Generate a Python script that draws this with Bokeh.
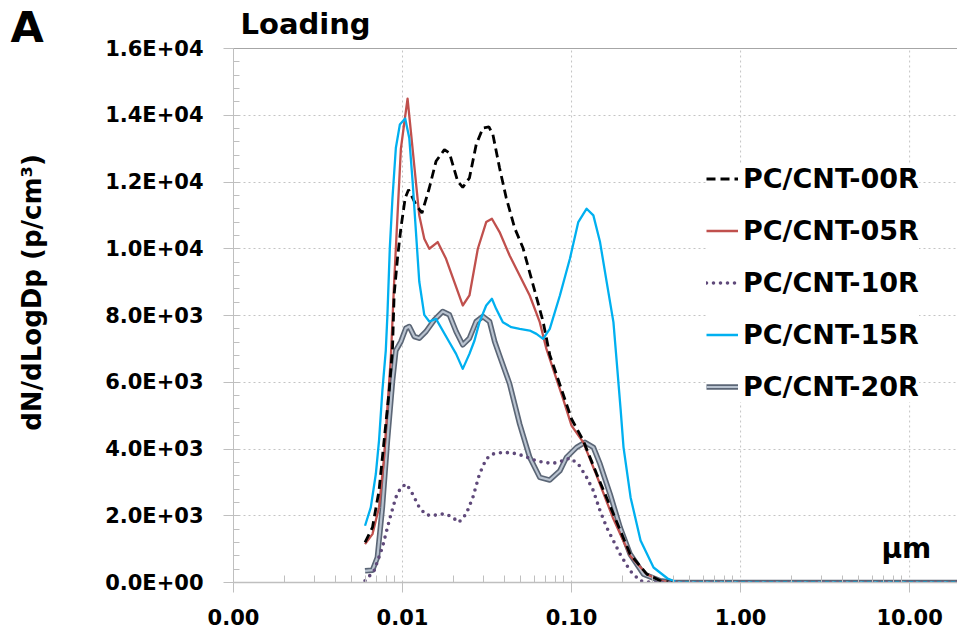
import numpy as np
from bokeh.plotting import figure
from bokeh.layouts import row
from bokeh.models import (Range1d, FixedTicker, CustomJSTickFormatter, Legend,
                          LegendItem, Label, Span)
from bokeh.embed import file_html
from bokeh.resources import INLINE

# ---------------- data ----------------
series_names = ["PC/CNT-00R", "PC/CNT-05R", "PC/CNT-10R", "PC/CNT-15R", "PC/CNT-20R"]

dp_00R = [0.00600, 0.00664, 0.00726, 0.00778, 0.00834, 0.00873, 0.00892, 0.00934, 0.00978,
          0.01037, 0.01085, 0.01200, 0.01303, 0.01440, 0.01578, 0.01769, 0.01893, 0.02121,
          0.02271, 0.02488, 0.02728, 0.02988, 0.03245, 0.03425, 0.03751, 0.04109, 0.04608,
          0.05163, 0.05920, 0.06785, 0.07433, 0.1000, 0.1173, 0.1409, 0.1769, 0.2221,
          0.2790, 0.3350, 0.40, 0.6, 1.0, 3.0, 20.0]
n_00R = [1200, 1650, 2750, 4250, 5750, 7050, 8620, 9720, 10620,
         11520, 11770, 11320, 11070, 11820, 12620, 12970, 12870, 12020,
         11840, 12120, 13120, 13620, 13650, 13420, 12420, 11520, 10620,
         10020, 8920, 7820, 6820, 4900, 4250, 3250, 2050, 850,
         250, 50, 0, 0, 0, 0, 0]

dp_05R = [0.00600, 0.00664, 0.00726, 0.00778, 0.00814, 0.00853, 0.00892, 0.00934, 0.00978,
          0.01020, 0.01071, 0.01121, 0.01173, 0.01256, 0.01345, 0.01440, 0.01614, 0.01809,
          0.02027, 0.02271, 0.02488, 0.02789, 0.03126, 0.03379, 0.03751, 0.04301, 0.04932,
          0.05655, 0.06485, 0.07100, 0.08913, 0.1000, 0.1173, 0.1409, 0.1769, 0.2221,
          0.2790, 0.3350, 0.40, 0.6, 1.0, 3.0, 20.0]
n_05R = [1150, 1450, 2250, 3750, 5250, 6750, 9000, 11000, 13000,
         13700, 14500, 13500, 12500, 11000, 10300, 10000, 10200, 9700,
         9000, 8300, 8600, 10000, 10800, 10900, 10500, 9800, 9200,
         8600, 7800, 7000, 5500, 4700, 4200, 3200, 1900, 800,
         250, 50, 0, 0, 0, 0, 0]

dp_10R = [0.00600, 0.00679, 0.00760, 0.00834, 0.00913, 0.00978, 0.01056, 0.01147, 0.01256,
          0.01377, 0.01507, 0.01651, 0.01809, 0.01982, 0.02153, 0.02378, 0.02606, 0.02853,
          0.03126, 0.03425, 0.03923, 0.04498, 0.05163, 0.05920, 0.06785, 0.07780, 0.08913,
          0.09775, 0.1096, 0.1228, 0.1346, 0.1474, 0.1614, 0.1769, 0.1938, 0.2221,
          0.2547, 0.30, 0.6, 1.0, 3.0, 20.0]
n_10R = [50, 350, 1050, 1850, 2550, 2850, 2950, 2650, 2250,
         2030, 2000, 2050, 2050, 1950, 1800, 2050, 2550, 3250,
         3700, 3850, 3900, 3880, 3800, 3680, 3600, 3570, 3650,
         3730, 3550, 3150, 2750, 2150, 1650, 1250, 850, 350,
         50, 0, 0, 0, 0, 0]

dp_15R = [0.00600, 0.00649, 0.00695, 0.00726, 0.00760, 0.00796, 0.00814, 0.00841, 0.00872,
          0.00913, 0.00964, 0.01037, 0.01096, 0.01147, 0.01200, 0.01256, 0.01345, 0.01440,
          0.01578, 0.01893, 0.02074, 0.02271, 0.02488, 0.02666, 0.02853, 0.03126, 0.03379,
          0.03580, 0.03923, 0.04401, 0.04932, 0.05655, 0.06198, 0.06785, 0.07433, 0.08531,
          0.09775, 0.1096, 0.1228, 0.1346, 0.1474, 0.1614, 0.1769, 0.1851, 0.1950,
          0.2030, 0.2235, 0.2560, 0.3055, 0.3700, 0.4240, 0.6, 1.0, 3.0, 20.0]
n_15R = [1700, 2250, 3250, 4250, 5750, 6950, 8020, 10020, 11520,
         13020, 13720, 13900, 13320, 12020, 10520, 9020, 8020, 7820,
         7900, 7200, 6850, 6400, 6850, 7250, 7800, 8300, 8500,
         8200, 7800, 7650, 7600, 7550, 7450, 7300, 7600, 8600,
         9700, 10800, 11200, 11000, 10200, 9000, 7800, 6600, 5200,
         4050, 2550, 1260, 450, 120, 0, 0, 0, 0, 0]

dp_20R = [0.00600, 0.00664, 0.00710, 0.00760, 0.00814, 0.00873, 0.00913, 0.00978, 0.01047,
          0.01096, 0.01173, 0.01256, 0.01377, 0.01542, 0.01729, 0.01893, 0.02074, 0.02271,
          0.02488, 0.02728, 0.02988, 0.03273, 0.03508, 0.03751, 0.04301, 0.04932, 0.05655,
          0.06485, 0.07433, 0.08531, 0.09333, 0.1071, 0.1200, 0.1346, 0.1474, 0.1690,
          0.1938, 0.2221, 0.2667, 0.3350, 0.40, 0.6, 1.0, 3.0, 20.0]
n_20R = [350, 370, 750, 2250, 4250, 6050, 6950, 7220, 7620,
         7670, 7370, 7320, 7520, 7870, 8120, 8020, 7520, 7120,
         7320, 7820, 7970, 7820, 7220, 6800, 5950, 4750, 3750,
         3150, 3070, 3350, 3750, 4050, 4200, 4050, 3550, 2650,
         1650, 850, 250, 50, 0, 0, 0, 0, 0]

x_ticks = [0.001, 0.01, 0.1, 1, 10]
x_tick_labels = ["0.00", "0.01", "0.10", "1.00", "10.00"]
y_ticks = [0, 2000, 4000, 6000, 8000, 10000, 12000, 14000, 16000]
y_tick_labels = ["0.0E+00", "2.0E+03", "4.0E+03", "6.0E+03", "8.0E+03",
                 "1.0E+04", "1.2E+04", "1.4E+04", "1.6E+04"]
y_max = 16000

# ---------------- layout constants ----------------
FONT = "DejaVu Sans"
W, H = 957, 637
LEFT_W = 98
FRAME_L, FRAME_B, FRAME_T = 233, 582, 48
px_per_unit = (FRAME_B - FRAME_T) / y_max
y_top = y_max + FRAME_T / px_per_unit   # frame reaches the top of the canvas

def lab(x, y, text, size, **kw):
    return Label(x=x, y=y, x_units="screen", y_units="screen", text=text,
                 text_font=FONT, text_font_style="bold", text_font_size=size,
                 text_color="black", text_baseline="middle", **kw)

# ---------------- left strip: panel letter and y-axis title ----------------
# (frames of a row are aligned, so this strip's frame bottom is also at FRAME_B)
left = figure(width=LEFT_W, height=H, x_range=Range1d(0, 1), y_range=Range1d(0, 1),
              output_backend="svg", toolbar_location=None,
              x_axis_location=None, y_axis_location=None,
              min_border=0, min_border_left=0, min_border_right=0,
              min_border_top=0, min_border_bottom=H - FRAME_B)
left.outline_line_color = None
left.grid.visible = False
left.add_layout(lab(10, FRAME_B - 26, "A", "43px", text_align="left"))
left.add_layout(lab(31, FRAME_B - 292, "dN/dLogDp (p/cm³)", "26px", text_align="center",
                    angle=np.pi / 2))

# ---------------- main plot ----------------
p = figure(width=W - LEFT_W, height=H, x_axis_type="log",
           x_range=Range1d(0.001, 19.2), y_range=Range1d(0, y_top),
           output_backend="svg", toolbar_location=None,
           min_border_left=FRAME_L - LEFT_W, min_border_right=0,
           min_border_top=0, min_border_bottom=H - FRAME_B)
p.outline_line_color = None

x_minor = [m * d for d in [0.001, 0.01, 0.1, 1, 10] for m in range(2, 10)]
y_minor = list(range(0, y_max + 1, 400))

p.xaxis.ticker = FixedTicker(ticks=x_ticks, minor_ticks=x_minor)
p.yaxis.ticker = FixedTicker(ticks=y_ticks, minor_ticks=y_minor)
p.yaxis.bounds = (0, y_max)

fmt_code = """
let best = 0; let bd = 1e99;
for (let i = 0; i < tvals.length; i++) {
  const d = Math.abs(Math.log(Math.max(tick, 1e-12)) - Math.log(Math.max(tvals[i], 1e-12)));
  const e = Math.abs(tick - tvals[i]);
  const dd = uselog ? d : e;
  if (dd < bd) { bd = dd; best = i; }
}
return tlabels[best];
"""
p.xaxis.formatter = CustomJSTickFormatter(
    args=dict(tvals=x_ticks, tlabels=x_tick_labels, uselog=True), code=fmt_code)
p.yaxis.formatter = CustomJSTickFormatter(
    args=dict(tvals=y_ticks, tlabels=y_tick_labels, uselog=False), code=fmt_code)

for ax in (p.xaxis[0], p.yaxis[0]):
    ax.axis_line_color = "#bfbfbf"
    ax.major_tick_line_color = "#bfbfbf"
    ax.minor_tick_line_color = "#bfbfbf"
    ax.major_tick_out = 10
    ax.major_tick_in = 0
    ax.minor_tick_out = 0
    ax.major_label_text_font = FONT
    ax.major_label_text_font_style = "bold"
    ax.major_label_text_color = "black"
    ax.major_label_text_font_size = "21px"

p.xaxis.axis_line_width = 1.5
p.xaxis.minor_tick_in = 7
p.yaxis.minor_tick_in = 6
p.xaxis.major_label_standoff = 16
p.yaxis.major_label_standoff = 20

p.xgrid.visible = False
p.ygrid.grid_line_color = "#c4c4c4"
p.ygrid.grid_line_dash = "2 3"
p.ygrid.grid_line_width = 1

# vertical grid lines only up to the top of the value axis
p.segment(x0=x_ticks[1:], y0=[0] * 4, x1=x_ticks[1:], y1=[y_max] * 4,
          line_color="#c4c4c4", line_dash="2 3", line_width=1, level="underlay")
p.add_layout(Span(location=y_max, dimension="width", line_color="#a6a6a6", line_width=1))

# ---------------- series ----------------
r20o = p.line(dp_20R, n_20R, line_color="#5b6676", line_width=5.5, line_join="round")
r20i = p.line(dp_20R, n_20R, line_color="#b9c3d0", line_width=2.2, line_join="round")
r05 = p.line(dp_05R, n_05R, line_color="#c0504d", line_width=2.3, line_join="round")
r00 = p.line(dp_00R, n_00R, line_color="black", line_width=2.8, line_dash="9 5")
r15 = p.line(dp_15R, n_15R, line_color="#00b0f0", line_width=2.3, line_join="round")
r10 = p.line(dp_10R, n_10R, line_color="#5f497a", line_width=3.6, line_dash="0 7",
             line_cap="round")

legend = Legend(items=[
    LegendItem(label=series_names[0], renderers=[r00]),
    LegendItem(label=series_names[1], renderers=[r05]),
    LegendItem(label=series_names[2], renderers=[r10]),
    LegendItem(label=series_names[3], renderers=[r15]),
    LegendItem(label=series_names[4], renderers=[r20o, r20i]),
], location=(473, 180))
legend.label_text_font = FONT
legend.label_text_font_style = "bold"
legend.label_text_font_size = "27px"
legend.label_text_color = "black"
legend.background_fill_color = "white"
legend.background_fill_alpha = 1
legend.border_line_color = None
legend.padding = 0
legend.margin = 0
legend.glyph_width = 32
legend.glyph_height = 31
legend.label_height = 31
legend.label_standoff = 5
legend.spacing = 21
p.add_layout(legend)

p.add_layout(lab(7, FRAME_B - 23, "Loading", "29px", text_align="left"))
p.add_layout(lab(648, FRAME_B - 548, "µm", "28px", text_align="left"))

open("out.html", "w").write(file_html(row(left, p), INLINE))
